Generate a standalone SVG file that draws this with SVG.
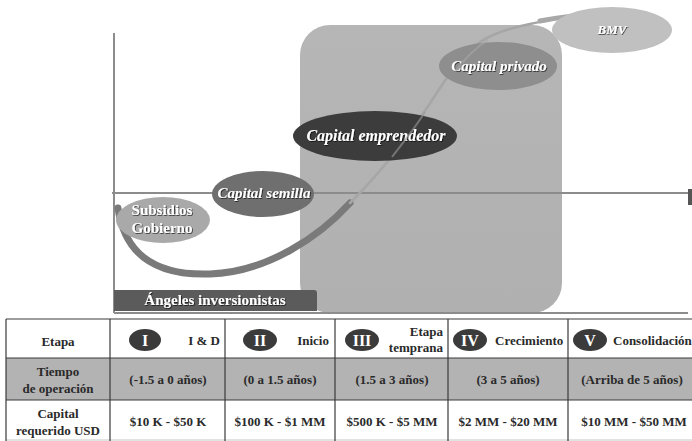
<svg xmlns="http://www.w3.org/2000/svg" width="692" height="441" viewBox="0 0 692 441">
  <style>
    .lbl { font-family: "Liberation Serif", "Times New Roman", "DejaVu Serif", serif; font-weight: bold; fill: #ffffff; text-anchor: middle; }
    .it { font-style: italic; }
    .axis { stroke: #8c8c8c; stroke-width: 2; fill: none; }
    .cell { font-family: "Liberation Serif", "Times New Roman", "DejaVu Serif", serif; font-weight: bold; font-size: 13px; fill: #2a2a2a; text-anchor: middle; }
    .cell.end { text-anchor: end; }
    .cell.start { text-anchor: start; }
    .num { font-family: "Liberation Serif", "Times New Roman", "DejaVu Serif", serif; font-weight: bold; font-size: 16px; fill: #ffffff; text-anchor: middle; }
    .grid { stroke: #3a3a3a; stroke-width: 1.2; fill: none; }
    .badge { fill: #3b3b3b; }
  </style>
  <defs>
    <filter id="shadow" x="-10%" y="-30%" width="120%" height="160%">
      <feDropShadow dx="0.8" dy="0.8" stdDeviation="0.6" flood-color="#000" flood-opacity="0.75"/>
    </filter>
    <linearGradient id="zone" x1="0" y1="0" x2="0" y2="1">
      <stop offset="0" stop-color="#b6b6b6"/>
      <stop offset="1" stop-color="#b0b0b0"/>
    </linearGradient>
  </defs>

  <rect width="692" height="441" fill="#ffffff"/>

  <!-- shaded venture zone -->
  <rect id="zone-bg" x="300" y="25" width="262" height="288" rx="30" fill="url(#zone)"/>

  <!-- axes -->
  <g id="axes">
    <line class="axis" x1="114" y1="33" x2="114" y2="313"/>
    <line class="axis" x1="112" y1="193" x2="688" y2="193"/>
    <line class="axis" x1="114" y1="313" x2="688" y2="313"/>
    <rect x="688" y="189" width="4" height="16" fill="#555555"/>
  </g>

  <!-- growth curve -->
  <g id="connectors">
    <path d="M118,208 C124,250 150,276 210,274 C268,272 320,236 350,203" stroke="#7a7a7a" stroke-width="7" fill="none" stroke-linecap="round"/>
    <path d="M350,203 C385,168 410,135 440,88 S490,32 530,24 S580,14 597,15" stroke="#a6a6a6" stroke-width="2.5" fill="none" stroke-linecap="round"/>
    <path d="M540,21 C565,16 585,15 597,15" stroke="#a8a8a8" stroke-width="5" fill="none" stroke-linecap="round"/>
  </g>

  <!-- funding stages -->
  <g id="subsidios">
    <ellipse cx="163" cy="220" rx="47" ry="23" fill="#a9a9a9"/>
    <text class="lbl" font-size="15" filter="url(#shadow)"><tspan x="162" y="215">Subsidios</tspan><tspan x="162" y="233">Gobierno</tspan></text>
  </g>
  <g id="capital-semilla">
    <ellipse cx="263" cy="194" rx="51" ry="23" fill="#6f6f6f"/>
    <text class="lbl it" x="264" y="198" font-size="15" filter="url(#shadow)">Capital semilla</text>
  </g>
  <g id="capital-emprendedor">
    <ellipse cx="375" cy="136" rx="82" ry="25" fill="#3c3c3c"/>
    <text class="lbl it" x="376" y="141" font-size="16" filter="url(#shadow)">Capital emprendedor</text>
  </g>
  <path d="M392,157 C405,140 415,128 425,112" stroke="#9a9a9a" stroke-width="2" fill="none" opacity="0.6"/>
  <g id="capital-privado">
    <ellipse cx="498" cy="66" rx="59" ry="24" fill="#8e8e8e"/>
    <text class="lbl it" x="499" y="71" font-size="15" filter="url(#shadow)">Capital privado</text>
  </g>
  <path d="M455,72 C465,58 475,48 488,40" stroke="#a8a8a8" stroke-width="2" fill="none" opacity="0.6"/>
  <g id="bmv">
    <ellipse cx="612" cy="30" rx="60" ry="23" fill="#c0c0c0"/>
    <text class="lbl it" x="612" y="34" font-size="13" filter="url(#shadow)">BMV</text>
  </g>
  <g id="angeles">
    <path d="M114,290 H314 Q317,290 317,293 V311 H114 Z" fill="#5b5b5b"/>
    <text class="lbl" x="215" y="305" font-size="15" filter="url(#shadow)">Ángeles inversionistas</text>
  </g>

  <!-- stage table -->
  <g id="table">
    <rect x="6" y="358" width="686" height="42" fill="#b3b3b3"/>
    <line class="grid" x1="6" y1="319" x2="692" y2="319"/>
    <line class="grid" x1="6" y1="358" x2="692" y2="358"/>
    <line class="grid" x1="6" y1="400" x2="692" y2="400"/>
    <line class="grid" x1="6" y1="440" x2="692" y2="440" stroke-opacity="0.3"/>
    <line class="grid" x1="6" y1="319" x2="6" y2="441"/>
    <line class="grid" x1="110" y1="319" x2="110" y2="441"/>
    <line class="grid" x1="225" y1="319" x2="225" y2="441"/>
    <line class="grid" x1="335" y1="319" x2="335" y2="441"/>
    <line class="grid" x1="448" y1="319" x2="448" y2="441"/>
    <line class="grid" x1="568" y1="319" x2="568" y2="441"/>

    <!-- header row -->
    <text class="cell" x="58" y="346">Etapa</text>
    <g id="stage-1">
      <ellipse class="badge" cx="145" cy="340" rx="16" ry="11"/>
      <text class="num" x="145" y="346">I</text>
      <text class="cell end" x="220" y="345">I &amp; D</text>
    </g>
    <g id="stage-2">
      <ellipse class="badge" cx="260" cy="340" rx="17" ry="11"/>
      <text class="num" x="260" y="346">II</text>
      <text class="cell end" x="329" y="345">Inicio</text>
    </g>
    <g id="stage-3">
      <ellipse class="badge" cx="362" cy="340" rx="17" ry="11"/>
      <text class="num" x="362" y="346">III</text>
      <text class="cell end" x="443" y="336">Etapa</text>
      <text class="cell end" x="443" y="352">temprana</text>
    </g>
    <g id="stage-4">
      <ellipse class="badge" cx="470" cy="340" rx="17" ry="11"/>
      <text class="num" x="470" y="346">IV</text>
      <text class="cell start" x="495" y="345">Crecimiento</text>
    </g>
    <g id="stage-5">
      <ellipse class="badge" cx="590" cy="340" rx="17" ry="11"/>
      <text class="num" x="590" y="346">V</text>
      <text class="cell start" x="613" y="345">Consolidación</text>
    </g>

    <!-- operating time row -->
    <text class="cell"><tspan x="58" y="376">Tiempo</tspan><tspan x="58" y="393">de operación</tspan></text>
    <text class="cell" x="168" y="384">(-1.5 a 0 años)</text>
    <text class="cell" x="280" y="384">(0 a 1.5 años)</text>
    <text class="cell" x="392" y="384">(1.5 a 3 años)</text>
    <text class="cell" x="508" y="384">(3 a 5 años)</text>
    <text class="cell" x="632" y="384">(Arriba de 5 años)</text>

    <!-- required capital row -->
    <text class="cell"><tspan x="58" y="418">Capital</tspan><tspan x="58" y="435">requerido USD</tspan></text>
    <text class="cell" x="168" y="426">$10 K - $50 K</text>
    <text class="cell" x="280" y="426">$100 K - $1 MM</text>
    <text class="cell" x="392" y="426">$500 K - $5 MM</text>
    <text class="cell" x="508" y="426">$2 MM - $20 MM</text>
    <text class="cell" x="634" y="426">$10 MM - $50 MM</text>
  </g>
</svg>
